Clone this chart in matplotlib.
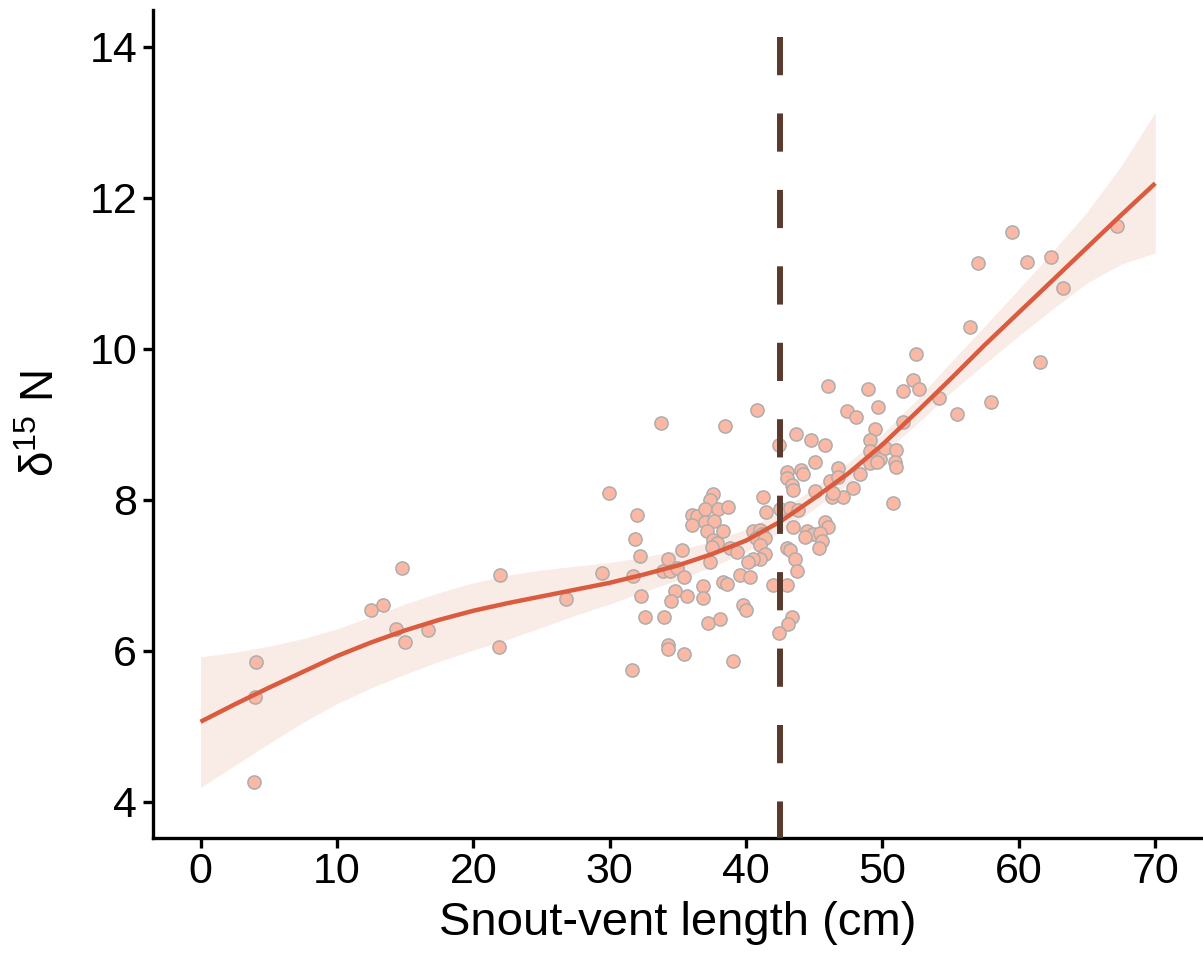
import matplotlib
matplotlib.use("Agg")
import matplotlib.pyplot as plt

plt.rcParams['font.family'] = ['Liberation Sans', 'DejaVu Sans']
plt.rcParams['mathtext.fontset'] = 'custom'
plt.rcParams['mathtext.rm'] = 'Liberation Sans'
plt.rcParams['mathtext.default'] = 'regular'

# snout-vent length (cm) and delta 15N of each individual
svl = [4.10, 4.03, 3.95, 12.52, 13.40, 14.79, 14.35, 15.01, 16.69, 21.97, 21.89, 26.80,
       45.98, 48.91, 49.64, 40.79, 47.37, 48.03, 33.76, 38.44, 49.43, 43.64, 44.74, 45.76,
       42.40, 49.06, 45.06, 46.72, 42.99, 44.01, 44.16, 42.99, 48.33, 49.06, 49.43, 49.79,
       49.06, 49.57, 46.18, 46.72, 43.35, 43.42, 29.95, 47.81, 45.06, 41.22, 46.28, 47.08,
       37.56, 37.34, 41.44, 32.00, 36.03, 36.39, 36.98, 36.03, 37.93, 38.66, 36.98, 37.64,
       37.12, 38.30, 42.47, 43.20, 43.79, 43.42, 45.76, 45.98, 44.45, 44.89, 45.40, 45.54,
       44.30, 45.32, 40.49, 41.00, 41.15, 40.71, 41.37, 41.00, 37.56, 37.86, 37.49, 31.85,
       38.81, 39.32, 35.29, 41.37, 41.00, 40.49, 40.13, 42.99, 43.20, 43.57, 32.22, 34.27,
       33.90, 34.41, 34.93, 37.34, 43.71, 29.44, 31.71, 35.44, 39.54, 40.27, 41.96, 42.99,
       38.30, 38.59, 36.83, 34.78, 32.29, 34.49, 35.66, 36.83, 39.76, 39.98, 32.58, 33.98,
       37.20, 38.08, 43.35, 43.05, 42.40, 34.27, 34.27, 35.44, 39.03, 31.63, 52.43, 52.21,
       51.48, 52.65, 54.11, 55.43, 51.48, 50.16, 50.96, 50.89, 50.96, 46.35, 50.74, 56.45,
       67.22, 59.53, 57.04, 60.56, 62.39, 63.26, 61.58, 57.99]
d15n = [5.85, 5.39, 4.26, 6.54, 6.61, 7.09, 6.29, 6.12, 6.28, 7.01, 6.05, 6.69,
        9.50, 9.46, 9.23, 9.19, 9.17, 9.09, 9.01, 8.97, 8.94, 8.87, 8.79, 8.72,
        8.72, 8.79, 8.50, 8.42, 8.37, 8.40, 8.34, 8.29, 8.34, 8.64, 8.56, 8.54,
        8.49, 8.50, 8.25, 8.30, 8.19, 8.13, 8.09, 8.15, 8.11, 8.04, 8.04, 8.04,
        8.07, 8.00, 7.84, 7.80, 7.80, 7.79, 7.88, 7.67, 7.88, 7.91, 7.70, 7.72,
        7.58, 7.58, 7.88, 7.89, 7.87, 7.64, 7.70, 7.64, 7.58, 7.54, 7.56, 7.46,
        7.51, 7.36, 7.58, 7.60, 7.55, 7.50, 7.50, 7.40, 7.47, 7.43, 7.38, 7.48,
        7.36, 7.31, 7.34, 7.28, 7.21, 7.21, 7.17, 7.36, 7.34, 7.22, 7.26, 7.22,
        7.05, 7.05, 7.10, 7.17, 7.06, 7.03, 6.99, 6.98, 7.01, 6.98, 6.87, 6.87,
        6.91, 6.89, 6.86, 6.79, 6.72, 6.66, 6.72, 6.70, 6.60, 6.54, 6.45, 6.45,
        6.37, 6.42, 6.45, 6.36, 6.24, 6.08, 6.03, 5.96, 5.87, 5.75, 9.93, 9.59,
        9.44, 9.46, 9.35, 9.13, 9.03, 8.69, 8.66, 8.50, 8.44, 8.09, 7.96, 10.29,
        11.63, 11.54, 11.14, 11.15, 11.22, 10.81, 9.83, 9.30]

# smoothed fit with its confidence band
fit_x = [0, 2.5, 5, 7.5, 10, 12.5, 15, 17.5, 20, 22.5, 25, 27.5, 30, 32.5, 35,
         37.5, 40, 42.5, 45, 47.5, 50, 52.5, 55, 57.5, 60, 62.5, 65, 67.5, 70]
fit_y = [5.06, 5.29, 5.51, 5.72, 5.93, 6.11, 6.27, 6.41, 6.53, 6.63, 6.72, 6.81, 6.90,
         7.01, 7.13, 7.28, 7.46, 7.71, 8.02, 8.35, 8.73, 9.16, 9.60, 10.05, 10.48,
         10.91, 11.34, 11.77, 12.19]
ci_lo = [4.19, 4.48, 4.77, 5.05, 5.30, 5.51, 5.69, 5.86, 6.01, 6.15, 6.31, 6.47, 6.62,
         6.78, 6.94, 7.11, 7.31, 7.57, 7.88, 8.21, 8.60, 9.00, 9.42, 9.80, 10.17,
         10.53, 10.87, 11.12, 11.27]
ci_hi = [5.92, 5.98, 6.06, 6.16, 6.29, 6.45, 6.62, 6.77, 6.90, 7.00, 7.07, 7.12, 7.17,
         7.24, 7.33, 7.45, 7.61, 7.85, 8.16, 8.49, 8.87, 9.32, 9.82, 10.30, 10.79,
         11.29, 11.81, 12.42, 13.13]

breakpoint_svl = 42.45

fig = plt.figure(figsize=(12.03, 9.6), dpi=100)
ax = fig.add_axes([0.127, 0.127, 0.873, 0.863])

ax.fill_between(fit_x, ci_lo, ci_hi, color='#F9EBE6', lw=0, zorder=1)
ax.scatter(svl, d15n, s=90, c='#FBB8A4', edgecolors='#ADADAD', linewidths=1.1, zorder=2)
ax.plot(fit_x, fit_y, color='#DB5B3F', lw=3.2, solid_capstyle='butt',
        solid_joinstyle='round', zorder=3)
ax.plot([breakpoint_svl, breakpoint_svl], [14.13, 3.52], color='#5A3A2C', lw=4.3,
        dashes=(6.4, 6.4), zorder=4)

ax.set_xlim(-3.5, 73.5)
ax.set_ylim(3.52, 14.49)
ax.set_xticks(range(0, 71, 10))
ax.set_yticks(range(4, 15, 2))

for side in ['top', 'right']:
    ax.spines[side].set_visible(False)
for side in ['left', 'bottom']:
    ax.spines[side].set_linewidth(2.4)
ax.tick_params(direction='out', length=7.2, width=2.4, labelsize=31, colors='black')
ax.tick_params(axis='x', pad=3)
ax.tick_params(axis='y', pad=4)

ax.set_xlabel('Snout-vent length (cm)', fontsize=34, labelpad=6)
ax.set_ylabel('δ$^{15}$ N', fontsize=33, labelpad=18)

fig.savefig('out.png', dpi=100)
